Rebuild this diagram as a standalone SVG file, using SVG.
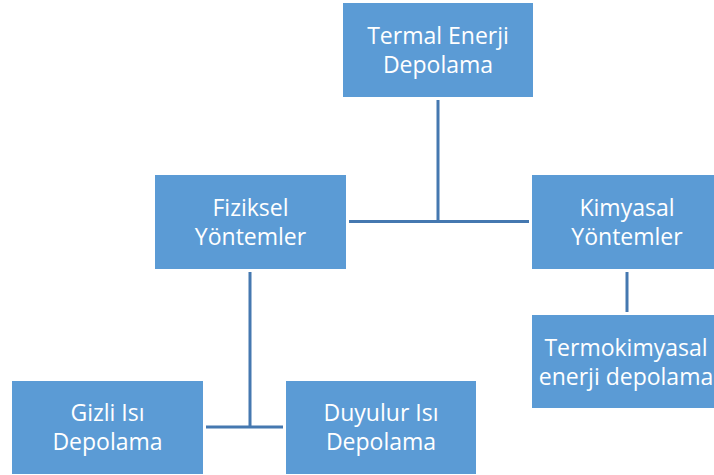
<svg xmlns="http://www.w3.org/2000/svg" width="714" height="475" viewBox="0 0 714 475">
<style>
.box{fill:#5B9BD5;}
.lbl{fill:#ffffff;font-family:"Open Sans","Liberation Sans",sans-serif;font-size:23px;text-anchor:middle;}
.conn{stroke:#4578B0;stroke-width:3;fill:none;}
</style>
<rect width="714" height="475" fill="#ffffff"/>
<g id="connectors">
<path class="conn" d="M438 100 V221.5 M349 221.5 H529"/>
<path class="conn" d="M627 272 V312"/>
<path class="conn" d="M250 272 V427 M206 427 H283"/>
</g>
<g id="termal">
<rect class="box" x="343" y="3" width="190" height="94"/>
<text class="lbl" x="438" y="44">Termal Enerji</text>
<text class="lbl" x="438" y="73">Depolama</text>
</g>
<g id="fiziksel">
<rect class="box" x="155" y="175" width="191" height="94"/>
<text class="lbl" x="250.5" y="216">Fiziksel</text>
<text class="lbl" x="250.5" y="245">Yöntemler</text>
</g>
<g id="kimyasal">
<rect class="box" x="532" y="175" width="190" height="94"/>
<text class="lbl" x="627" y="216">Kimyasal</text>
<text class="lbl" x="627" y="245">Yöntemler</text>
</g>
<g id="termokimyasal">
<rect class="box" x="532" y="315" width="190" height="93"/>
<text class="lbl" x="626" y="356">Termokimyasal</text>
<text class="lbl" x="626" y="385">enerji depolama</text>
</g>
<g id="gizli">
<rect class="box" x="12" y="381" width="191" height="93"/>
<text class="lbl" x="107.5" y="421">Gizli Isı</text>
<text class="lbl" x="107.5" y="450">Depolama</text>
</g>
<g id="duyulur">
<rect class="box" x="286" y="381" width="190" height="93"/>
<text class="lbl" x="381" y="421">Duyulur Isı</text>
<text class="lbl" x="381" y="450">Depolama</text>
</g>
</svg>
